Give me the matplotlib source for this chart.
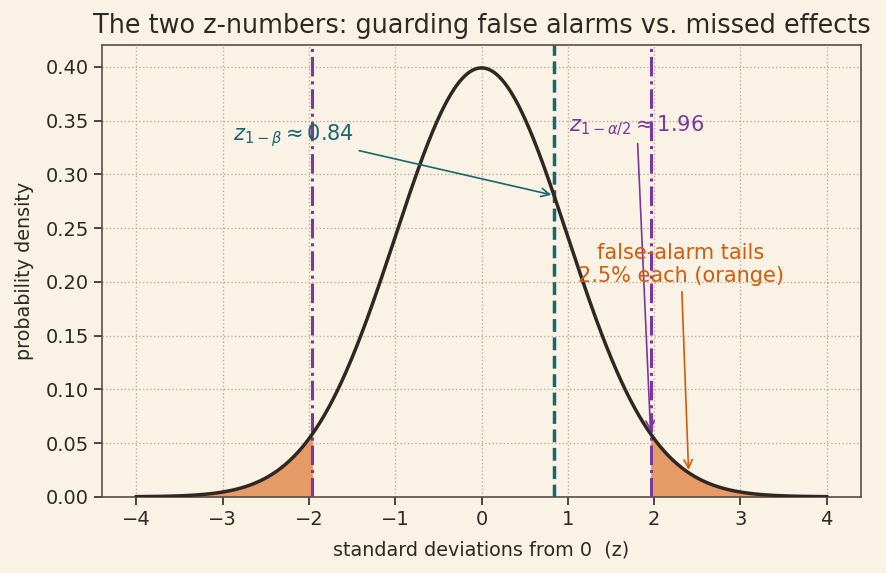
import numpy as np
import matplotlib
matplotlib.use("Agg")
import matplotlib.pyplot as plt

# data
z_grid_min, z_grid_max = -4.0, 4.0
z_alpha = 1.96
z_beta = 0.84
tail_arrow_x = 2.4
xticks = [-4, -3, -2, -1, 0, 1, 2, 3, 4]
yticks = [0.00, 0.05, 0.10, 0.15, 0.20, 0.25, 0.30, 0.35, 0.40]

def pdf(z):
    return np.exp(-0.5 * z**2) / np.sqrt(2 * np.pi)

bg = "#faf2e4"
ink = "#2f2822"
teal = "#17676f"
purple = "#7a37a0"
orange = "#d35b0b"
fillc = "#e69a65"

plt.rcParams["font.family"] = ["DejaVu Sans"]
fig = plt.figure(figsize=(8.86, 5.73), dpi=100, facecolor=bg)
ax = fig.add_axes([0.115, 0.133, 0.857, 0.788], facecolor=bg)

z = np.linspace(z_grid_min, z_grid_max, 801)
y = pdf(z)
ax.fill_between(z, 0, y, where=(z <= -z_alpha), color=fillc, lw=0, zorder=2)
ax.fill_between(z, 0, y, where=(z >= z_alpha), color=fillc, lw=0, zorder=2)
ax.plot(z, y, color=ink, lw=2.5, zorder=4)
for v in (-z_alpha, z_alpha):
    ax.axvline(v, color=purple, lw=2.2, ls="-.", zorder=3)
ax.axvline(z_beta, color=teal, lw=2.5, ls="--", zorder=3)

ax.annotate(r"$z_{1-\beta} \approx 0.84$", xy=(z_beta, pdf(z_beta)), xytext=(-2.18, 0.336),
            ha="center", va="center", color=teal, fontsize=15,
            arrowprops=dict(arrowstyle="->", color=teal, lw=1.2), zorder=6)
ax.annotate(r"$z_{1-\alpha/2} \approx 1.96$", xy=(z_alpha, pdf(z_alpha)), xytext=(1.80, 0.345),
            ha="center", va="center", color=purple, fontsize=15,
            arrowprops=dict(arrowstyle="->", color=purple, lw=1.2), zorder=6)
ax.annotate("false-alarm tails\n2.5% each (orange)", xy=(tail_arrow_x, pdf(tail_arrow_x)),
            xytext=(2.31, 0.216), ha="center", va="center", color=orange, fontsize=15,
            arrowprops=dict(arrowstyle="->", color=orange, lw=1.2), zorder=6)

ax.set_xlim(-4.4, 4.4)
ax.set_ylim(0, 0.42)
ax.set_xticks(xticks)
ax.set_yticks(yticks)
ax.set_xticklabels([f"{t}" if t >= 0 else f"\u2212{-t}" for t in xticks])
ax.set_yticklabels([f"{t:.2f}" for t in yticks])
ax.tick_params(labelsize=14, colors=ink, length=6, width=1.2)
ax.grid(True, ls=":", color="#bbb09e", lw=1)
for s in ax.spines.values():
    s.set_color("#5a4e44")
    s.set_linewidth(1.2)
ax.set_xlabel("standard deviations from 0  (z)", fontsize=13.8, color=ink, labelpad=8)
ax.set_ylabel("probability density", fontsize=13.8, color=ink, labelpad=8)
ax.set_title("The two z-numbers: guarding false alarms vs. missed effects", fontsize=18.4,
             color=ink, pad=9)
fig.savefig("out.png", dpi=100, facecolor=bg)
